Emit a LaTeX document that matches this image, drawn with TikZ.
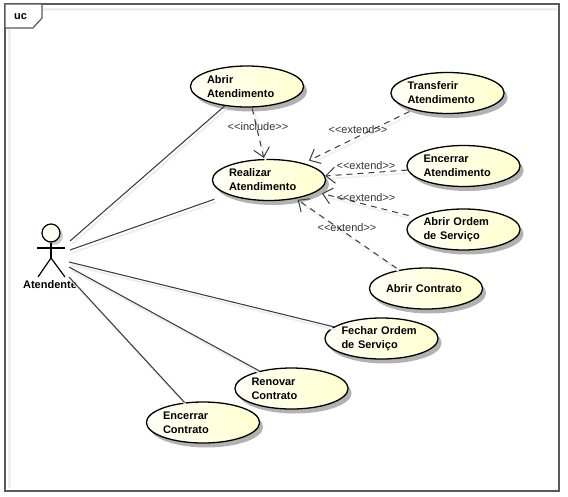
\documentclass[tikz,border=0pt]{standalone}
\usepackage{fontspec}
\setmainfont{Liberation Sans}
\usetikzlibrary{shapes.geometric,shadows,arrows.meta}
\definecolor{ucleft}{HTML}{FFFFF6}
\definecolor{ucright}{HTML}{FFFFCF}
\definecolor{linegrey}{HTML}{3C3C3C}
\newcommand{\stereotext}[1]{<\kern0pt<#1>\kern0pt>}
\tikzset{
  usecase/.style={ellipse,draw=black,line width=1.3pt,left color=ucleft,right color=ucright,
    inner sep=0pt,text width=80pt,align=left,minimum height=41pt,
    font=\fontsize{11}{14}\selectfont\bfseries,
    drop shadow={shadow xshift=3.5pt,shadow yshift=-4.5pt,fill=black,opacity=.3}},
  assoc/.style={draw=linegrey,line width=1.05pt,
    preaction={draw=black!7,line width=1.8pt,transform canvas={shift={(2pt,-3pt)}}}},
  depend/.style={draw=linegrey,line width=1pt,dash pattern=on 6pt off 5pt,
    -{Straight Barb[length=9pt,width=16pt,line width=1pt]},
    preaction={draw=black!6,solid,line width=1.8pt,arrows=-,transform canvas={shift={(2pt,-3pt)}}}},
  stereo/.style={font=\fontsize{11}{13}\selectfont,text=black!80,inner sep=0pt},
  limb/.style={draw=black,line width=1.2pt},
  actorlabel/.style={font=\fontsize{11}{13}\selectfont\bfseries,inner sep=0pt},
  framebox/.style={draw=black!65,line width=1.2pt},
}
\begin{document}
\begin{tikzpicture}[x=1pt,y=-1pt]
\useasboundingbox (0,0) rectangle (568,496);
\fill[white] (0,0) rectangle (568,496);
% frame
\draw[black!6,line width=3pt] (9,488) -- (9,9) -- (557,9);
\draw[framebox] (5,4) rectangle (559,491);
\draw[framebox,fill=white] (5,4) -- (42,4) -- (42,18) -- (33,28) -- (5,28) -- cycle;
\node[font=\fontsize{11}{13}\selectfont\bfseries,inner sep=0pt] (frametag) at (20.5,17) {uc};
% use cases
\node[usecase] (abrir) at (247,86.5) {Abrir\\Atendimento};
\node[usecase] (realizar) at (269,180) {Realizar\\Atendimento};
\node[usecase] (transferir) at (447.5,93) {Transferir\\Atendimento};
\node[usecase] (encerrarat) at (463.5,166) {Encerrar\\Atendimento};
\node[usecase] (ordem) at (463.5,229.5) {Abrir Ordem\\de Serviço};
\node[usecase] (contrato) at (426,288.5) {Abrir Contrato};
\node[usecase] (fechar) at (381.5,338.5) {Fechar Ordem\\de Serviço};
\node[usecase] (renovar) at (291.5,388.5) {Renovar\\Contrato};
\node[usecase] (encerrarco) at (203,422.5) {Encerrar\\Contrato};
% actor
\fill[black!20] (54,236) circle (9);
\node[circle,draw=black,line width=1.2pt,fill=ucleft,minimum size=18pt,inner sep=0pt] (head) at (51,233) {};
\coordinate (hip) at (51,258);
\coordinate (armL) at (37,248);
\coordinate (armR) at (65,248);
\coordinate (footL) at (38,277);
\coordinate (footR) at (65,277);
\draw[limb] (head) -- (hip);
\draw[limb] (armL) -- (armR);
\draw[limb] (footL) -- (hip) -- (footR);
\node[actorlabel] (atendente) at (50,285) {Atendente};
% association ends at the actor
\coordinate (a1) at (70,241);
\coordinate (a2) at (70,250);
\coordinate (a3) at (69,262);
\coordinate (a4) at (69,267);
\coordinate (a5) at (69,277);
\draw[assoc] (a1) -- (abrir);
\draw[assoc,shorten >=14pt] (a2) -- (realizar);
\draw[assoc] (a3) -- (fechar);
\draw[assoc] (a4) -- (renovar);
\draw[assoc] (a5) -- (encerrarco);
% dependencies
\draw[depend,shorten <=1pt,shorten >=1pt] (abrir) -- (realizar);
\draw[depend,shorten <=4pt,shorten >=6pt] (transferir) -- (realizar);
\draw[depend] (encerrarat) -- (realizar);
\draw[depend,shorten <=8pt,shorten >=6pt] (ordem) -- (realizar);
\draw[depend,shorten <=3pt,shorten >=2pt] (contrato) -- (realizar);
% stereotypes
\node[stereo] (s1) at (258,127) {\stereotext{include}};
\node[stereo] (s2) at (358,130) {\stereotext{extend}};
\node[stereo] (s3) at (366,166) {\stereotext{extend}};
\node[stereo] (s4) at (366,198) {\stereotext{extend}};
\node[stereo] (s5) at (347,228) {\stereotext{extend}};
\end{tikzpicture}
\end{document}
